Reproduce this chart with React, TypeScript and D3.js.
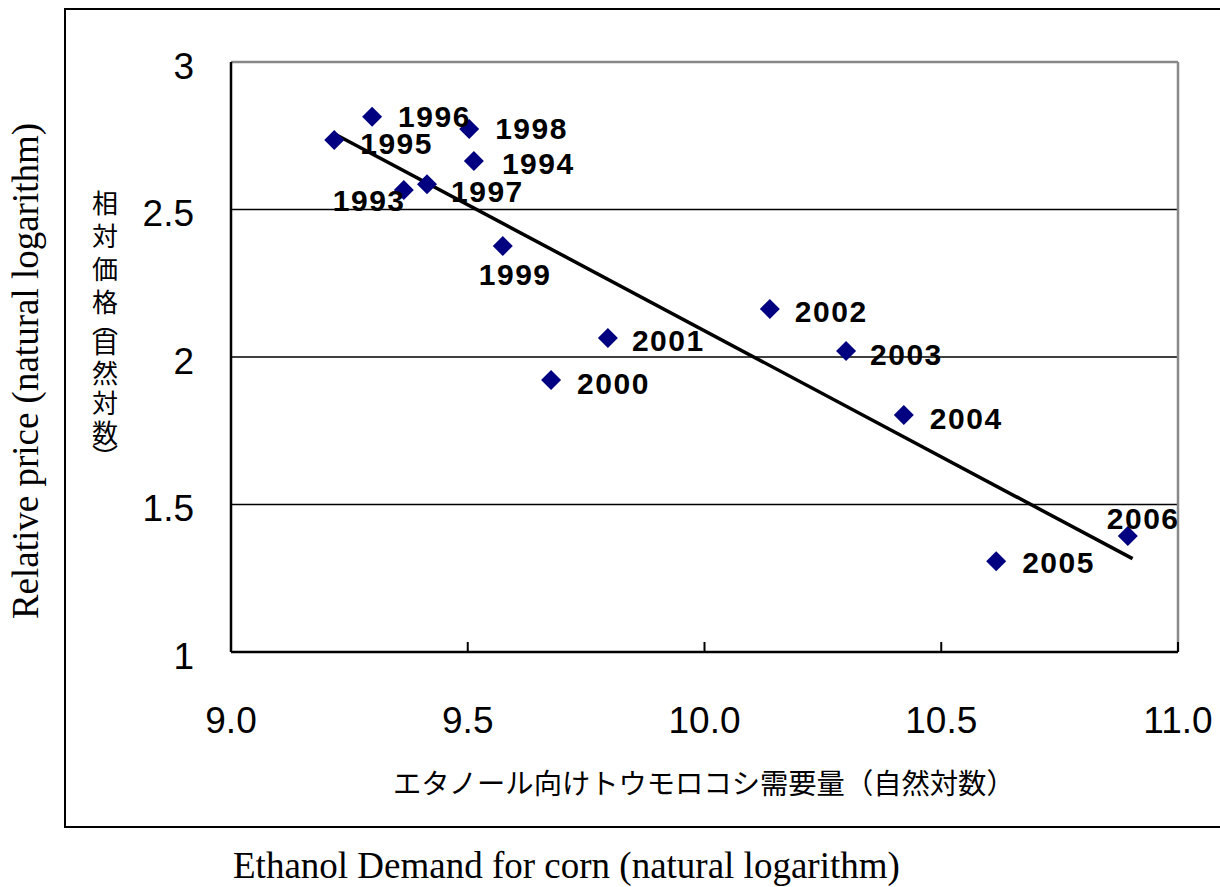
import React from "react";
import * as d3 from "d3";

// ---- data ----
const years = ["1993","1994","1995","1996","1997","1998","1999","2000","2001","2002","2003","2004","2005","2006"];
const demandLog = [9.365, 9.513, 9.218, 9.298, 9.414, 9.503, 9.574, 9.676, 9.796, 10.138, 10.299, 10.421, 10.616, 10.894];
const priceLog = [2.566, 2.664, 2.736, 2.814, 2.586, 2.773, 2.376, 1.922, 2.064, 2.163, 2.020, 1.803, 1.308, 1.393];
const yTicks = [1, 1.5, 2, 2.5, 3];
const xTicks = [9.0, 9.5, 10.0, 10.5, 11.0];
const yTitleEn = "Relative price (natural logarithm)";
const xTitleEn = "Ethanol Demand for corn (natural logarithm)";
const xTitleJa = "エタノール向けトウモロコシ需要量（自然対数）";
const yTitleJaParts = ["相対価格", "︵", "自然対数", "︶"];

// label placement (offsets from the marker, px)
const labelDx = [-71, 28, 26, 26, 24, 26, -24, 26, 24, 25, 24, 26, 26, -21];
const labelDy = [10, 2, 4, 0, 7, 0, 28, 3, 2, 3, 3, 3, 1, -18];

const W = 1220, H = 887;
const M = { left: 231, right: 1178, top: 62, bottom: 652 };

export default function App() {
  const x = d3.scaleLinear().domain([9, 11]).range([M.left, M.right]);
  const y = d3.scaleLinear().domain([1, 3]).range([M.bottom, M.top]);

  // least-squares trend line
  const mx = d3.mean(demandLog)!;
  const my = d3.mean(priceLog)!;
  let sxy = 0, sxx = 0;
  demandLog.forEach((v, i) => { sxy += (v - mx) * (priceLog[i] - my); sxx += (v - mx) * (v - mx); });
  const slope = sxy / sxx;
  const icpt = my - slope * mx;
  const [x0, x1] = d3.extent(demandLog) as [number, number];
  const trend = d3.line<number>().x(d => x(d)).y(d => y(icpt + slope * d))([x0, x1 + 0.01]);

  const diamond = d3.symbol().type(d3.symbolSquare).size(200)()!;

  const numFont = "'Liberation Sans', Arial, sans-serif";
  const serif = "'Liberation Serif', 'Times New Roman', serif";
  const cjk = "'Noto Sans CJK JP', sans-serif";

  return (
    <svg width={W} height={H} style={{ position: "absolute", left: 0, top: 0, background: "#fff" }}>
      <rect x={0} y={0} width={W} height={H} fill="#fff" />
      {/* outer frame */}
      <path d={`M${W + 10},9 H65 V827 H${W + 10}`} fill="none" stroke="#000" strokeWidth={2} />

      {/* gridlines */}
      {yTicks.filter(t => t > 1 && t < 3).map(t => (
        <line key={t} x1={M.left} x2={M.right} y1={y(t)} y2={y(t)} stroke="#000" strokeWidth={1.5} />
      ))}
      {/* plot border: top/right gray */}
      <line x1={M.left} x2={M.right} y1={M.top} y2={M.top} stroke="#888" strokeWidth={2.5} />
      <line x1={M.right} x2={M.right} y1={M.top} y2={M.bottom} stroke="#888" strokeWidth={2.5} />
      {/* axes */}
      <line x1={M.left} x2={M.left} y1={M.top} y2={M.bottom} stroke="#000" strokeWidth={2.5} />
      <line x1={M.left} x2={M.right} y1={M.bottom} y2={M.bottom} stroke="#000" strokeWidth={2.5} />
      {xTicks.map(t => (
        <line key={t} x1={x(t)} x2={x(t)} y1={M.bottom} y2={M.bottom - 10} stroke="#000" strokeWidth={2} />
      ))}

      {/* tick labels */}
      {yTicks.map(t => (
        <text key={t} x={M.left - 37} y={y(t) + 4} textAnchor="end" dominantBaseline="central"
          fontFamily={numFont} fontSize={37} fill="#000">{t}</text>
      ))}
      {xTicks.map(t => (
        <text key={t} x={x(t)} y={720} textAnchor="middle" dominantBaseline="central"
          fontFamily={numFont} fontSize={37} fill="#000">{t.toFixed(1)}</text>
      ))}

      {/* trend line */}
      <path d={trend!} fill="none" stroke="#000" strokeWidth={3.5} />

      {/* points */}
      {demandLog.map((v, i) => (
        <path key={years[i]} d={diamond} transform={`translate(${x(v)},${y(priceLog[i])}) rotate(45)`} fill="#000080" />
      ))}
      {demandLog.map((v, i) => (
        <text key={"l" + years[i]} x={x(v) + labelDx[i]} y={y(priceLog[i]) + labelDy[i]}
          dominantBaseline="central" fontFamily={numFont} fontWeight="bold" fontSize={30}
          letterSpacing={1.5} fill="#000">{years[i]}</text>
      ))}

      {/* titles */}
      <text transform={`translate(38,371) rotate(-90)`} textAnchor="middle" fontFamily={serif} fontSize={37} fill="#000">{yTitleEn}</text>
      <text x={105} y={190} style={{ writingMode: "vertical-rl" }} fontFamily={cjk} fontSize={26} fill="#000">
        <tspan letterSpacing={7}>{yTitleJaParts[0]}</tspan>
        <tspan letterSpacing={-6} dy={-12}>{yTitleJaParts[1]}</tspan>
        <tspan letterSpacing={4}>{yTitleJaParts[2]}</tspan>
        <tspan dy={-6}>{yTitleJaParts[3]}</tspan>
      </text>
      <text x={393} y={781} dominantBaseline="central" fontFamily={cjk} fontSize={28.3} fill="#000">{xTitleJa}</text>
      <text x={233} y={878} fontFamily={serif} fontSize={37} fill="#000">{xTitleEn}</text>
    </svg>
  );
}
